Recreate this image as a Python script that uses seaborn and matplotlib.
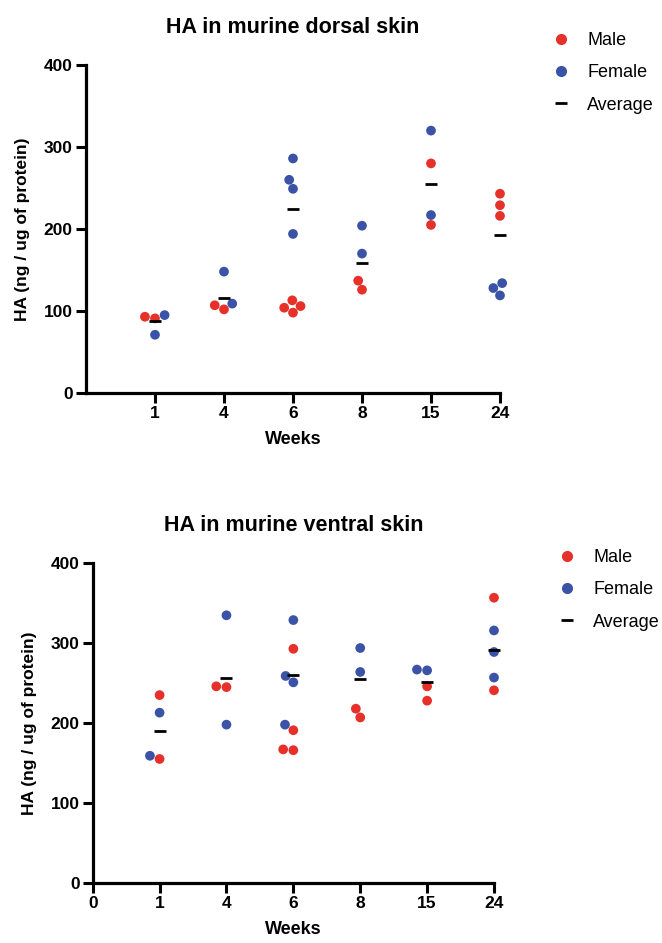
import numpy as np
import pandas as pd
import matplotlib
matplotlib.use("Agg")
import matplotlib.pyplot as plt
import seaborn as sns
from matplotlib.lines import Line2D

# values
weeks = ["1", "4", "6", "8", "15", "24"]

dorsal_male = [[91, 93], [102, 107], [113, 98, 106, 104], [126, 137], [280, 205], [243, 229, 216]]
dorsal_female = [[95, 71], [148, 109], [286, 260, 249, 194], [204, 170], [320, 217], [134, 128, 119]]
dorsal_avg = [88, 116, 225, 159, 255, 193]

ventral_male = [[235, 155], [246, 245], [293, 191, 166, 167], [207, 218], [246, 228], [357, 241]]
ventral_female = [[213, 159], [335, 198], [329, 251, 259, 198], [294, 264], [266, 267], [316, 289, 257]]
ventral_avg = [190, 256, 260, 255, 252, 292]

RED = "#E6302A"
BLUE = "#3A53A6"

sns.set_style("ticks")
plt.rcParams["font.family"] = ["Liberation Sans", "DejaVu Sans"]
plt.rcParams["text.color"] = "black"
plt.rcParams["axes.labelcolor"] = "black"
plt.rcParams["xtick.color"] = "black"
plt.rcParams["ytick.color"] = "black"


def make_df(male, female):
    rows = []
    for i, w in enumerate(weeks):
        for v in male[i]:
            rows.append({"pos": i + 1, "week": w, "HA": v, "Sex": "Male"})
        for v in female[i]:
            rows.append({"pos": i + 1, "week": w, "HA": v, "Sex": "Female"})
    return pd.DataFrame(rows)


def draw_panel(ax, male, female, avg, title, zero_tick):
    df = make_df(male, female)
    sns.swarmplot(data=df, x="pos", y="HA", hue="Sex", native_scale=True,
                  palette={"Male": RED, "Female": BLUE}, size=7,
                  linewidth=0, legend=False, ax=ax, warn_thresh=1)
    avg_df = pd.DataFrame({"pos": np.arange(1, len(weeks) + 1), "HA": avg})
    ax.scatter(avg_df["pos"], avg_df["HA"], marker="_", s=80, color="black",
               linewidths=2.0, zorder=5)
    for c in ax.collections:
        c.set_clip_on(False)

    ax.set_xlim(0, len(weeks))
    ax.set_ylim(0, 400)
    ax.set_yticks([0, 100, 200, 300, 400])
    if zero_tick:
        ax.set_xticks(range(0, len(weeks) + 1))
        ax.set_xticklabels(["0"] + weeks)
    else:
        ax.set_xticks(range(1, len(weeks) + 1))
        ax.set_xticklabels(weeks)

    for s in ["left", "bottom"]:
        ax.spines[s].set_linewidth(2.3)
        ax.spines[s].set_color("black")
    sns.despine(ax=ax)
    ax.tick_params(width=2.2, length=7, labelsize=12.5, pad=2.5, colors="black")
    for lab in ax.get_xticklabels() + ax.get_yticklabels():
        lab.set_fontweight("bold")

    ax.set_xlabel("Weeks", fontsize=13, fontweight="bold", labelpad=7)
    ax.set_ylabel("HA (ng / ug of protein)", fontsize=12.5, fontweight="bold", labelpad=10)
    ax.set_title(title, fontsize=15.5, fontweight="bold", pad=23)


def add_legend(fig, ax, x, y):
    handles = [
        Line2D([], [], marker="o", linestyle="none", color=RED, markersize=7),
        Line2D([], [], marker="o", linestyle="none", color=BLUE, markersize=7),
        Line2D([], [], marker="_", linestyle="none", color="black", markersize=9, markeredgewidth=2.0),
    ]
    ax.legend(handles, ["Male", "Female", "Average"], loc="upper left",
              bbox_to_anchor=(x, y), bbox_transform=fig.transFigure,
              frameon=False, fontsize=13, handlelength=1.0, handletextpad=0.95,
              labelspacing=0.85, borderpad=0, borderaxespad=0)


fig = plt.figure(figsize=(6.62, 9.43), dpi=100)
ax1 = fig.add_axes([86 / 662, 1 - 393 / 943, 414 / 662, 328 / 943])
ax2 = fig.add_axes([92.7 / 662, 1 - 882.7 / 943, 401.3 / 662, 319.3 / 943])

draw_panel(ax1, dorsal_male, dorsal_female, dorsal_avg, "HA in murine dorsal skin", False)
draw_panel(ax2, ventral_male, ventral_female, ventral_avg, "HA in murine ventral skin", True)

add_legend(fig, ax1, 552 / 662, 1 - 32 / 943)
add_legend(fig, ax2, 558 / 662, 1 - 549 / 943)

fig.savefig("out.png", dpi=100)
